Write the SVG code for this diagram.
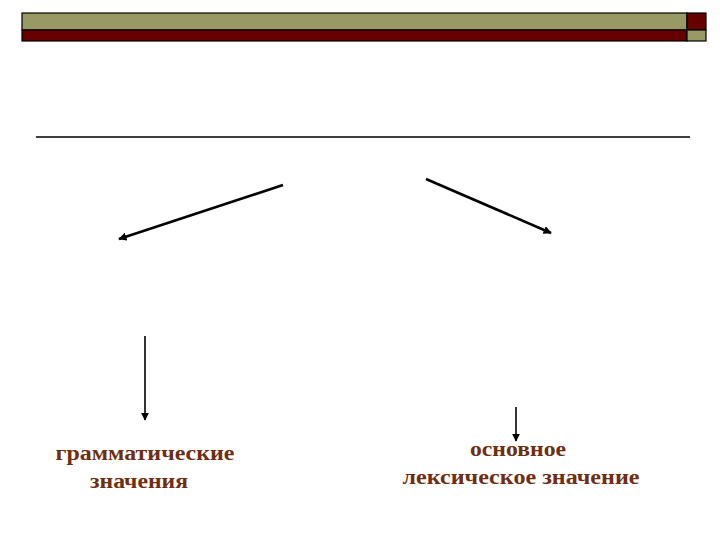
<svg xmlns="http://www.w3.org/2000/svg" width="720" height="540" viewBox="0 0 720 540">
<defs>
<style>
.lbl{font-family:"Liberation Serif","DejaVu Serif",serif;font-size:20px;font-weight:bold;fill:#6e2e12;text-anchor:middle}
.con{stroke:#000;fill:none}
.bar{stroke:#000;stroke-width:1.2}
</style>
<marker id="ah" viewBox="0 0 10 10" refX="9" refY="5" markerWidth="3.2" markerHeight="3.2" orient="auto" markerUnits="strokeWidth">
<path d="M0,0 L10,5 L0,10 z" fill="#000"/>
</marker>
<marker id="ah2" viewBox="0 0 10 10" refX="9" refY="5" markerWidth="5" markerHeight="5" orient="auto" markerUnits="strokeWidth">
<path d="M0,0 L10,5 L0,10 z" fill="#000"/>
</marker>
</defs>
<rect width="720" height="540" fill="#fff"/>
<g id="header">
<rect class="bar" x="22" y="13" width="665" height="17" fill="#999966"/>
<rect class="bar" x="22" y="30" width="665" height="11" fill="#660000"/>
<rect class="bar" x="687" y="13" width="19" height="17" fill="#660000"/>
<rect class="bar" x="687" y="30" width="19" height="11" fill="#999966"/>
</g>
<g id="rule">
<line x1="36" y1="137" x2="690" y2="137" stroke="#000" stroke-width="1.5"/>
</g>
<g id="connectors">
<line class="con" x1="283" y1="185" x2="119" y2="239" stroke-width="2.6" marker-end="url(#ah)"/>
<line class="con" x1="426" y1="179" x2="551" y2="233" stroke-width="2.6" marker-end="url(#ah)"/>
<line class="con" x1="145" y1="336" x2="145" y2="420" stroke-width="1.6" marker-end="url(#ah2)"/>
<line class="con" x1="516" y1="407" x2="516" y2="441" stroke-width="1.6" marker-end="url(#ah2)"/>
</g>
<g id="node-grammatical">
<text class="lbl" x="145" y="460" textLength="179" lengthAdjust="spacingAndGlyphs">грамматические</text>
<text class="lbl" x="139" y="488" textLength="98" lengthAdjust="spacingAndGlyphs">значения</text>
</g>
<g id="node-lexical">
<text class="lbl" x="518" y="456" textLength="96" lengthAdjust="spacingAndGlyphs">основное</text>
<text class="lbl" x="521" y="484" textLength="237" lengthAdjust="spacingAndGlyphs">лексическое значение</text>
</g>
</svg>
